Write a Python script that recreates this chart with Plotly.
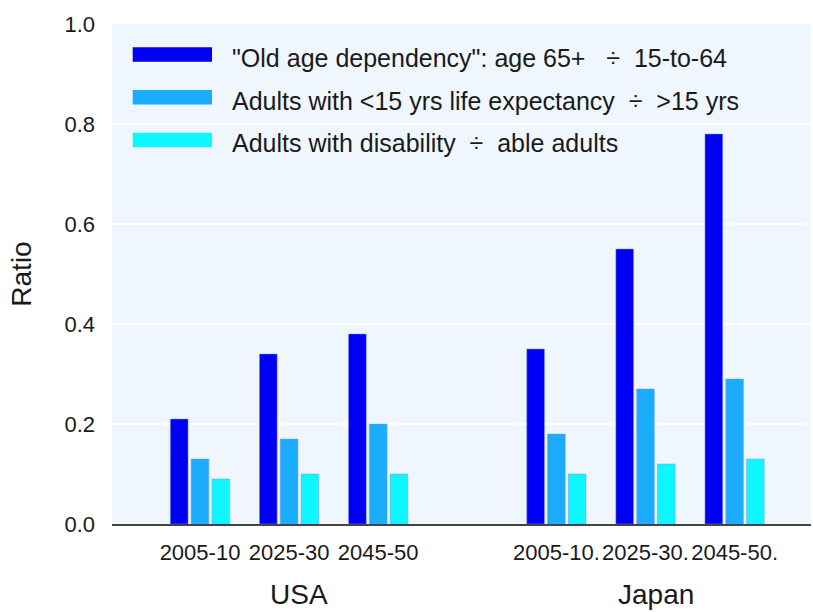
import plotly.graph_objects as go

# ---- data ----
countries = ["USA", "Japan"]
periods_usa = ["2005-10", "2025-30", "2045-50"]
periods_japan = ["2005-10.", "2025-30.", "2045-50."]
series_names = [
    '"Old age dependency": age 65+\u00a0\u00a0\u00a0÷\u00a0\u00a015-to-64',
    "Adults with <15 yrs life expectancy\u00a0\u00a0÷\u00a0\u00a0>15 yrs",
    "Adults with disability\u00a0\u00a0÷\u00a0\u00a0able adults",
]
old_age = [0.21, 0.34, 0.38, 0.35, 0.55, 0.78]
life_exp = [0.13, 0.17, 0.20, 0.18, 0.27, 0.29]
disability = [0.09, 0.10, 0.10, 0.10, 0.12, 0.13]
colors = ["#0000F5", "#1BADFC", "#0DF7FF"]

# ---- layout helpers (one empty slot between the two countries) ----
n_usa = len(periods_usa)
pos_usa = list(range(n_usa))
pos_jp = [n_usa + 1 + i for i in range(len(periods_japan))]
positions = pos_usa + pos_jp
ticktext = periods_usa + periods_japan

FONT = "Liberation Sans, Arial, sans-serif"
TXT = "#1a1a1a"

fig = go.Figure()
for name, vals, col in zip(series_names, [old_age, life_exp, disability], colors):
    fig.add_trace(go.Bar(x=positions, y=vals, name=name,
                         marker=dict(color=col, line=dict(width=0.8, color="rgba(120,150,255,0.6)")),
                         showlegend=False))

W, H = 813, 612
L, R, T, B = 112, 2, 24, 88
pw = W - L - R
ph = H - T - B

def px_x(x):
    return (x - L) / pw

def px_y(y):
    return (H - B - y) / ph

shapes = []
annotations = []
# legend (drawn manually: wide swatches)
sw_tops = [47.3, 90.0, 132.7]
for top, col, name in zip(sw_tops, colors, series_names):
    shapes.append(dict(type="rect", xref="paper", yref="paper",
                       x0=px_x(132.7), x1=px_x(212), y0=px_y(top + 14.5), y1=px_y(top),
                       fillcolor=col, line=dict(width=0)))
    annotations.append(dict(xref="paper", yref="paper", x=px_x(230), y=px_y(top + 7.5 + 3),
                            text=name, showarrow=False, xanchor="left", yanchor="middle",
                            font=dict(family=FONT, size=25, color=TXT)))

# country labels
for c, pos in zip(countries, [pos_usa, pos_jp]):
    annotations.append(dict(xref="x", yref="paper", x=sum(pos) / len(pos), y=px_y(594),
                            text=c, showarrow=False, xanchor="center", yanchor="middle",
                            xshift=10, font=dict(family=FONT, size=28, color=TXT)))

fig.update_layout(
    width=W, height=H,
    margin=dict(l=L, r=R, t=T, b=B),
    paper_bgcolor="white",
    plot_bgcolor="#EFF6FD",
    barmode="group",
    bargap=0.3,
    bargroupgap=0.15,
    font=dict(family=FONT, color=TXT),
    shapes=shapes,
    annotations=annotations,
    xaxis=dict(
        range=[(L - 200) / 89.1, (W - R - 200) / 89.1],
        tickmode="array", tickvals=positions, ticktext=ticktext,
        showgrid=False, zeroline=False,
        showline=True, linecolor="#444444", linewidth=2,
        ticks="", ticklabelstandoff=8,
        tickfont=dict(family=FONT, size=22, color=TXT),
    ),
    yaxis=dict(
        range=[0, 1], tick0=0, dtick=0.2, tickformat=".1f",
        showgrid=True, gridcolor="white", gridwidth=2,
        zeroline=False, showline=False, ticks="", ticklabelstandoff=16,
        tickfont=dict(family=FONT, size=22, color=TXT),
        title=dict(text="Ratio", font=dict(family=FONT, size=28, color=TXT), standoff=24),
    ),
)

fig.write_html("out.html", config={"displayModeBar": False},
               post_script="document.body.style.margin='0';document.body.style.overflow='hidden';")
